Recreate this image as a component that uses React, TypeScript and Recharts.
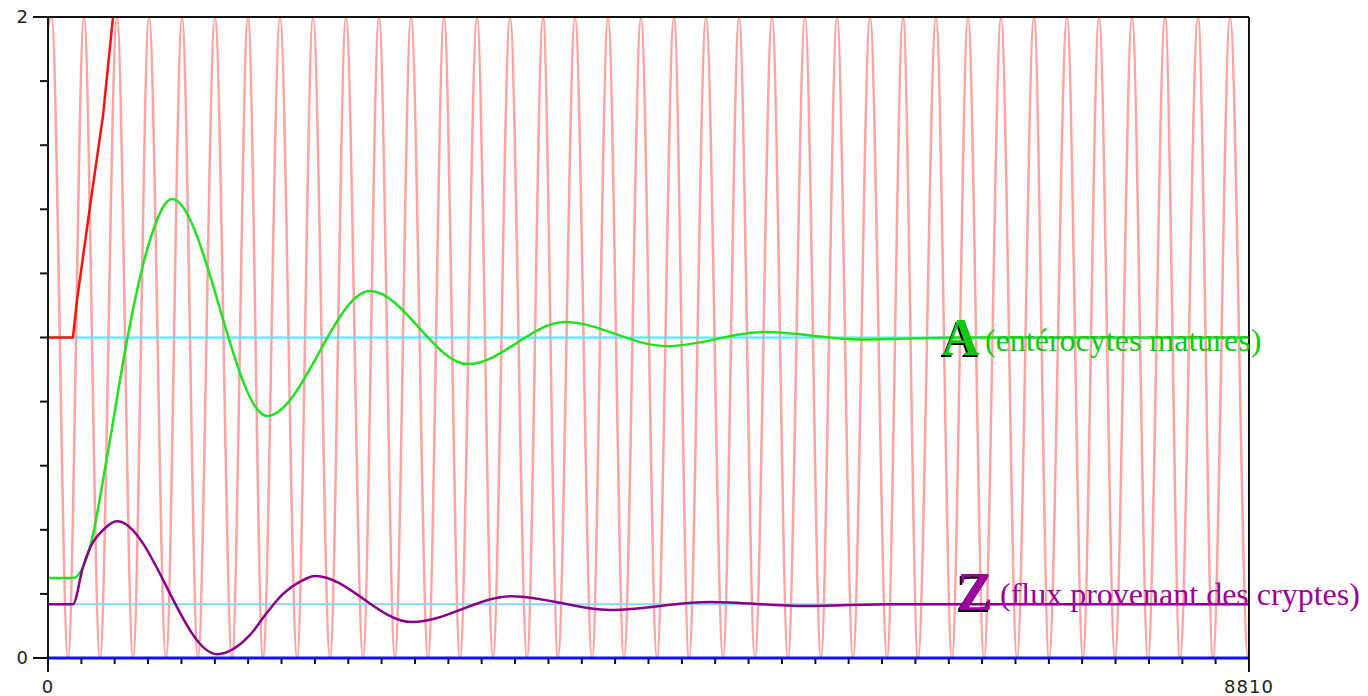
import { LineChart, Line, XAxis, YAxis, ReferenceLine } from "recharts";

// time axis (0..8810), 36 equal intervals, only ends labelled
const xTicks = [
  0, 245, 489, 734, 979, 1224, 1468, 1713, 1958, 2203, 2447, 2692, 2937,
  3181, 3426, 3671, 3916, 4160, 4405, 4650, 4894, 5139, 5384, 5629, 5873,
  6118, 6363, 6608, 6852, 7097, 7342, 7586, 7831, 8076, 8321, 8565, 8810,
];
const xLabels: Record<number, string> = { 0: "0", 8810: "8810" };

const yTicks = [0, 0.2, 0.4, 0.6, 0.8, 1, 1.2, 1.4, 1.6, 1.8, 2];
const yLabels: Record<number, string> = { 0: "0", 2: "2" };

// fast oscillation (pink): times of the maxima and minima
const pinkPeaks = [
  26, 264, 506, 741, 983, 1225, 1467, 1702, 1944, 2186, 2428, 2663, 2905,
  3147, 3389, 3631, 3866, 4108, 4350, 4592, 4827, 5069, 5311, 5553, 5788,
  6030, 6272, 6514, 6749, 6991, 7233, 7475, 7710, 7952, 8194, 8436, 8671,
];
const pinkTroughs = [
  147, 381, 624, 866, 1100, 1350, 1577, 1827, 2069, 2311, 2545, 2788, 3022,
  3264, 3514, 3741, 3991, 4225, 4467, 4702, 4952, 5186, 5428, 5670, 5905,
  6155, 6382, 6631, 6866, 7108, 7343, 7592, 7827, 8069, 8304, 8546, 8803,
];
const pinkMax = 2;
const pinkMin = 0;
const pinkStart = 1.97;
const pinkEnd = 0.01;

// red: leaves the frame at the top
const redT = [0, 183, 213, 315, 403, 477];
const redV = [1, 1, 1.117, 1.43, 1.69, 2.0];

// A (entérocytes matures)
const greenT = [
  0, 183, 308, 433, 580, 638, 748, 910, 1607, 2362, 3081, 3793, 4541, 5260,
  5956, 6700, 8810,
];
const greenV = [
  0.25, 0.25, 0.346, 0.627, 0.992, 1.117, 1.304, 1.432, 0.755, 1.145, 0.917,
  1.048, 0.973, 1.017, 0.994, 1.0, 1.0,
];

// Z (flux provenant des cryptes)
const purpleT = [
  0, 183, 257, 308, 403, 506, 1240, 1482, 1607, 1724, 1849, 1959, 2670, 3404,
  4123, 4856, 5553, 6200, 8810,
];
const purpleV = [
  0.168, 0.168, 0.284, 0.343, 0.399, 0.427, 0.012, 0.072, 0.142, 0.2, 0.238,
  0.256, 0.112, 0.193, 0.15, 0.175, 0.162, 0.168, 0.168,
];

// equilibrium levels and zero line
const levelA = 1.0;
const levelZ = 0.168;
const zeroLevel = 0;
const tEnd = 8810;

type Pt = { t: number; v: number };

function zipPts(ts: number[], vs: number[]): Pt[] {
  return ts.map((t, i) => ({ t, v: vs[i] }));
}

function flat(v: number): Pt[] {
  return [
    { t: 0, v },
    { t: tEnd, v },
  ];
}

const pinkData: Pt[] = [
  { t: 0, v: pinkStart },
  ...pinkPeaks.map((t) => ({ t, v: pinkMax })),
  ...pinkTroughs.map((t) => ({ t, v: pinkMin })),
  { t: tEnd, v: pinkEnd },
].sort((a, b) => a.t - b.t);

const redData = zipPts(redT, redV);
const greenData = zipPts(greenT, greenV);
const purpleData = zipPts(purpleT, purpleV);

// the wrapper is pulled up over the body margin so the "2" label has room
const W = 1360;
const H = 696;
const TICK_FONT = "DejaVu Sans, sans-serif";

function XTick(props: any) {
  const { x, y, payload } = props;
  const label = xLabels[payload.value];
  const major = label !== undefined;
  return (
    <g>
      <line
        x1={x}
        y1={y}
        x2={x}
        y2={y + (major ? 14 : 6)}
        stroke="#111"
        strokeWidth={2}
      />
      {major && (
        <text
          x={x}
          y={y + 35}
          textAnchor="middle"
          fontFamily={TICK_FONT}
          fontSize={18}
          letterSpacing={1}
          fill="#222"
        >
          {label}
        </text>
      )}
    </g>
  );
}

function YTick(props: any) {
  const { x, y, payload } = props;
  const label = yLabels[payload.value];
  const major = label !== undefined;
  return (
    <g>
      <line
        x1={x - (major ? 15 : 8)}
        y1={y}
        x2={x}
        y2={y}
        stroke="#111"
        strokeWidth={2}
      />
      {major && (
        <text
          x={x - 20}
          y={y}
          dy="0.36em"
          textAnchor="end"
          fontFamily={TICK_FONT}
          fontSize={18}
          fill="#222"
        >
          {label}
        </text>
      )}
    </g>
  );
}

function Labels() {
  const serif = "Liberation Serif, Times New Roman, serif";
  return (
    <svg
      width={W}
      height={H}
      style={{ position: "absolute", left: 0, top: 0, pointerEvents: "none" }}
    >
      <text x={932.5} y={356.5} fontFamily={serif} fontSize={52} fontWeight="bold" fill="#000">
        A
      </text>
      <text x={934} y={355} fontFamily={serif} fontSize={52} fontWeight="bold" fill="#10c810">
        A
      </text>
      <text x={977} y={351} fontFamily={serif} fontSize={32} fill="#10c810">
        (entérocytes matures)
      </text>

      <text x={947.5} y={611.5} fontFamily={serif} fontSize={54} fontWeight="bold" fill="#000">
        Z
      </text>
      <text x={949} y={610} fontFamily={serif} fontSize={54} fontWeight="bold" fill="#9a009a">
        Z
      </text>
      <text x={992} y={605} fontFamily={serif} fontSize={32} fill="#9a009a">
        (flux provenant des cryptes)
      </text>
    </svg>
  );
}

export default function App() {
  return (
    <div style={{ position: "relative", width: W, height: H, marginTop: -8 }}>
      <LineChart
        width={W}
        height={H}
        margin={{ top: 17, right: 119, bottom: 8, left: 0 }}
      >
        <XAxis
          dataKey="t"
          type="number"
          domain={[0, tEnd]}
          ticks={xTicks}
          interval={0}
          axisLine={false}
          tickLine={false}
          tickSize={0}
          tickMargin={0}
          height={30}
          tick={<XTick />}
        />
        <YAxis
          dataKey="v"
          type="number"
          domain={[0, 2]}
          ticks={yTicks}
          interval={0}
          width={40}
          axisLine={{ stroke: "#111", strokeWidth: 2 }}
          tickLine={false}
          tickSize={0}
          tickMargin={0}
          tick={<YTick />}
        />

        <Line
          data={pinkData}
          dataKey="v"
          type="monotone"
          stroke="#ffa3a3"
          strokeWidth={2.5}
          dot={false}
          activeDot={false}
          isAnimationActive={false}
        />
        <Line
          data={flat(levelA)}
          dataKey="v"
          type="linear"
          stroke="#40eefc"
          strokeWidth={2}
          dot={false}
          activeDot={false}
          isAnimationActive={false}
        />
        <Line
          data={flat(levelZ)}
          dataKey="v"
          type="linear"
          stroke="#8fd3f5"
          strokeWidth={2}
          dot={false}
          activeDot={false}
          isAnimationActive={false}
        />
        <Line
          data={redData}
          dataKey="v"
          type="linear"
          stroke="#ff1010"
          strokeWidth={2.5}
          dot={false}
          activeDot={false}
          isAnimationActive={false}
        />
        <Line
          data={greenData}
          dataKey="v"
          type="monotone"
          stroke="#22e022"
          strokeWidth={2.5}
          dot={false}
          activeDot={false}
          isAnimationActive={false}
        />
        <Line
          data={purpleData}
          dataKey="v"
          type="monotone"
          stroke="#880088"
          strokeWidth={2.5}
          dot={false}
          activeDot={false}
          isAnimationActive={false}
        />
        <Line
          data={flat(zeroLevel)}
          dataKey="v"
          type="linear"
          stroke="#1010ff"
          strokeWidth={3}
          dot={false}
          activeDot={false}
          isAnimationActive={false}
        />

        <ReferenceLine y={2} stroke="#111" strokeWidth={2} />
        <ReferenceLine x={tEnd} stroke="#111" strokeWidth={2} />
      </LineChart>
      <Labels />
    </div>
  );
}
